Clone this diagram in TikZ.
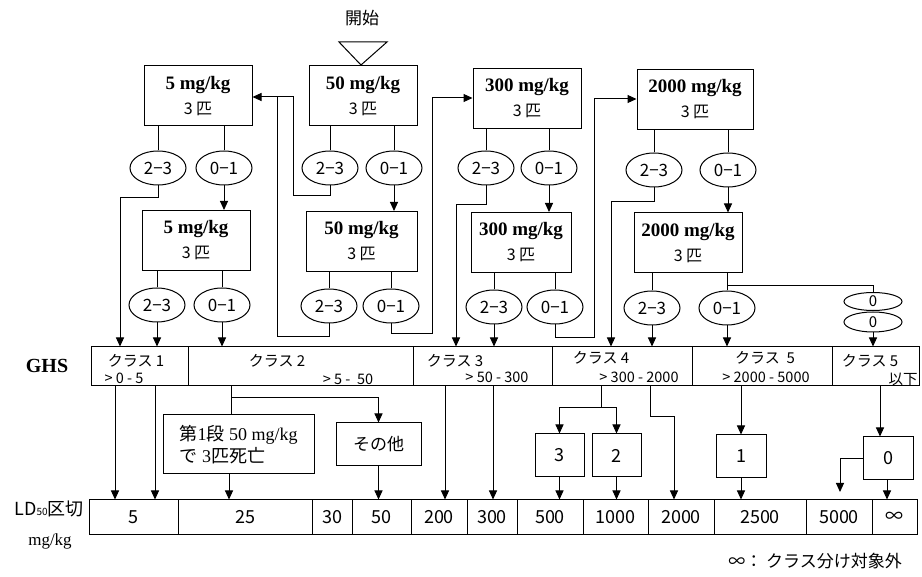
\documentclass[tikz,border=0pt]{standalone}
\usepackage{fontspec}
\setmainfont{Liberation Serif}
\newfontfamily\jp{Noto Sans CJK JP}
\usetikzlibrary{shapes.geometric,arrows.meta}
\newcommand\dosetxt[1]{{\bfseries #1}\\{\jp\fontsize{16}{16}\selectfont 3 匹}}
\begin{document}
\begin{tikzpicture}[x=1pt,y=-1pt,
  ln/.style={line width=1pt},
  arr/.style={ln,-{Triangle[length=9pt,width=8pt]}},
  dose/.style={draw,ln,minimum width=108pt,minimum height=60pt,align=center,inner sep=0pt,font=\fontsize{19}{25}\selectfont},
  res/.style={draw,ln,ellipse,minimum width=56pt,minimum height=34pt,inner sep=0pt,font=\jp\fontsize{17}{17}\selectfont},
  cell/.style={draw,ln,minimum height=39pt,inner sep=0pt},
  ldc/.style={draw,ln,minimum height=34pt,inner sep=0pt,font=\jp\fontsize{18}{18}\selectfont},
  kbox/.style={draw,ln,minimum width=49pt,minimum height=43pt,inner sep=0pt,font=\jp\fontsize{18}{18}\selectfont},
  cls/.style={font=\jp\fontsize{15}{15}\selectfont,inner sep=0pt},
  rng/.style={font=\jp\fontsize{14.5}{14.5}\selectfont,inner sep=0pt}
]
\fill[white] (0,0) rectangle (922,577);
\useasboundingbox (0,0) rectangle (922,577);

% start
\node[font=\jp\fontsize{17}{17}\selectfont] (start) at (362,18) {開始};
\draw[ln] (339,42) -- (387,42) -- (361,65) -- cycle;

% dose boxes
\node[dose] (A1) at (198,96) {\dosetxt{5 mg/kg}};
\node[dose] (B1) at (363,96) {\dosetxt{50 mg/kg}};
\node[dose] (C1) at (527,98.5) {\dosetxt{300 mg/kg}};
\node[dose,minimum width=116pt] (D1) at (695,99.5) {\dosetxt{2000 mg/kg}};
\node[dose] (A2) at (196,240.5) {\dosetxt{5 mg/kg}};
\node[dose,minimum width=111pt] (B2) at (361.5,241.5) {\dosetxt{50 mg/kg}};
\node[dose,minimum width=100pt] (C2) at (521,242.5) {\dosetxt{300 mg/kg}};
\node[dose] (D2) at (688,243) {\dosetxt{2000 mg/kg}};

% result ellipses
\node[res] (A1e23) at (158,168) {2−3};
\node[res] (A1e01) at (224,168) {0−1};
\node[res] (B1e23) at (330,168) {2−3};
\node[res] (B1e01) at (394,168) {0−1};
\node[res] (C1e23) at (486,168) {2−3};
\node[res] (C1e01) at (549,168) {0−1};
\node[res] (D1e23) at (654,170) {2−3};
\node[res] (D1e01) at (728,170) {0−1};
\node[res] (A2e23) at (157,305) {2−3};
\node[res] (A2e01) at (222,305) {0−1};
\node[res] (B2e23) at (329,306) {2−3};
\node[res] (B2e01) at (391,306) {0−1};
\node[res] (C2e23) at (494,307) {2−3};
\node[res] (C2e01) at (555,307) {0−1};
\node[res] (D2e23) at (652,308) {2−3};
\node[res] (D2e01) at (727,308) {0−1};
\node[res,minimum width=58pt,minimum height=18pt,font=\jp\fontsize{15}{15}\selectfont] (Z1) at (873,301.5) {0};
\node[res,minimum width=58pt,minimum height=20pt,font=\jp\fontsize{15}{15}\selectfont] (Z2) at (873,322) {0};

% GHS row
\node[font=\bfseries\fontsize{20}{20}\selectfont] (ghs) at (47,366) {GHS};
\node[cell,minimum width=97pt] (g1) at (139.5,366.5) {};
\node[cell,minimum width=225pt] (g2) at (300.5,366.5) {};
\node[cell,minimum width=139pt] (g3) at (482.5,366.5) {};
\node[cell,minimum width=140pt] (g4) at (622,366.5) {};
\node[cell,minimum width=140pt] (g5) at (762,366.5) {};
\node[cell,minimum width=87pt] (g6) at (875.5,366.5) {};
\node[cls] (t1) at (136,361) {クラス 1};
\node[rng] (r1) at (124,378) {> 0 - 5};
\node[cls] (t2) at (277,361) {クラス 2};
\node[rng] (r2) at (348,379) {> 5 -\ \ 50};
\node[cls] (t3) at (455,361) {クラス 3};
\node[rng] (r3) at (497,377) {> 50 - 300};
\node[cls] (t4) at (601,358) {クラス 4};
\node[rng] (r4) at (639,377) {> 300 - 2000};
\node[cls] (t5) at (765,358) {クラス\ \ 5};
\node[rng] (r5) at (766,377) {> 2000 - 5000};
\node[cls] (t6) at (870,361) {クラス 5};
\node[rng] (r6) at (903,379) {以下};

% middle boxes
\node[draw,ln,minimum width=151pt,minimum height=59pt,align=left,inner sep=0pt,font=\fontsize{18}{22}\selectfont] (F1) at (238.5,444.5) {{\jp 第}1{\jp 段} 50 mg/kg\\{\jp で} 3{\jp 匹死亡}};
\node[draw,ln,minimum width=85pt,minimum height=43pt,inner sep=0pt,font=\jp\fontsize{17}{17}\selectfont] (F2) at (378.5,444.5) {その他};
\node[kbox] (K3) at (559.5,455.5) {3};
\node[kbox] (K2) at (616.5,455.5) {2};
\node[kbox,minimum width=50pt] (K1) at (741,456.5) {1};
\node[kbox,minimum width=50pt] (K0) at (888,458.5) {0};

% LD50 row
\node[font=\jp\fontsize{18}{18}\selectfont,inner sep=0pt] (ld) at (49,509) {LD{\fontsize{10}{10}\selectfont 50}区切};
\node[font=\fontsize{17}{17}\selectfont,inner sep=0pt] (mgkg) at (50,541) {mg/kg};
\node[ldc,minimum width=89pt] (b1) at (133.5,517) {5};
\node[ldc,minimum width=134pt] (b2) at (245,517) {25};
\node[ldc,minimum width=40pt] (b3) at (332,517) {30};
\node[ldc,minimum width=59pt] (b4) at (381.5,517) {50};
\node[ldc,minimum width=56pt] (b5) at (439,517) {200};
\node[ldc,minimum width=50pt] (b6) at (492,517) {300};
\node[ldc,minimum width=66pt] (b7) at (550,517) {500};
\node[ldc,minimum width=65pt] (b8) at (615.5,517) {1000};
\node[ldc,minimum width=66pt] (b9) at (681,517) {2000};
\node[ldc,minimum width=92pt] (b10) at (760,517) {2500};
\node[ldc,minimum width=66pt] (b11) at (839,517) {5000};
\node[ldc,minimum width=45pt] (b12) at (894.5,517) {∞};

\node[font=\jp\fontsize{17}{17}\selectfont] (fn) at (815,561) {∞： クラス分け対象外};

% box -> ellipse lines
\foreach \b/\e in {A1/A1e23,A1/A1e01,B1/B1e23,B1/B1e01,C1/C1e23,C1/C1e01,D1/D1e23,D1/D1e01,
                   A2/A2e23,A2/A2e01,B2/B2e23,B2/B2e01,C2/C2e23,C2/C2e01,D2/D2e23,D2/D2e01}
  \draw[ln] (\e.north) -- (\e.north |- \b.south);
\draw[ln] (D2e01.north |- 0,286) -| (Z1.north);

% straight down arrows
\foreach \e/\t in {A1e01/A2,B1e01/B2,C1e01/C2,D1e01/D2,A2e23/g1,A2e01/g2,C2e23/g3,D2e23/g4,D2e01/g5,Z2/g6}
  \draw[arr] (\e.south) -- (\e.south |- \t.north);

% routed connectors
\draw[arr] (A1e23.south) |- (120,198) -- (g1.north -| 120,0);
\draw[arr] (B1e23.south) |- (293,196) |- (A1.east |- 0,97);
\draw[ln] (B2e23.south) |- (277,337) -- (277,97);
\draw[arr] (B2e01.south) |- (432,334) |- (C1.west |- 0,98);
\draw[arr] (C1e23.south) |- (456,205) -- (g3.north -| 456,0);
\draw[arr] (C2e01.south) |- (594,338) |- (D1.west |- 0,99);
\draw[arr] (D1e23.south) |- (611,202) -- (g4.north -| 611,0);

% lower connectors
\draw[arr] (g1.south -| 115,0) -- (b1.north -| 115,0);
\draw[arr] (g1.south -| 155,0) -- (b1.north -| 155,0);
\draw[ln] (g2.south -| 231,0) -- (F1.north -| 231,0);
\draw[arr] (231,398) -| (F2.north);
\draw[arr] (F1.south -| 229,0) -- (b2.north -| 229,0);
\draw[arr] (F2.south) -- (F2.south |- b4.north);
\draw[arr] (g3.south -| 445,0) -- (b5.north -| 445,0);
\draw[arr] (g3.south -| 493,0) -- (b6.north -| 493,0);
\draw[ln] (g4.south -| 601,0) -- (601,408);
\draw[arr] (601,408) -| (K3.north);
\draw[arr] (601,408) -| (K2.north);
\draw[arr] (K3.south) -- (K3.south |- b7.north);
\draw[arr] (K2.south) -- (K2.south |- b8.north);
\draw[arr] (g4.south -| 650,0) |- (674,417) -- (b9.north -| 674,0);
\draw[arr] (g5.south -| K1.north) -- (K1.north);
\draw[arr] (K1.south) -- (K1.south |- b10.north);
\draw[arr] (g6.south -| 880,0) -- (K0.north -| 880,0);
\draw[arr] (K0.south -| 887,0) -- (b12.north -| 887,0);
\coordinate (e5000) at (840,492);
\draw[arr] (K0.west) -| (e5000);
\end{tikzpicture}
\end{document}
